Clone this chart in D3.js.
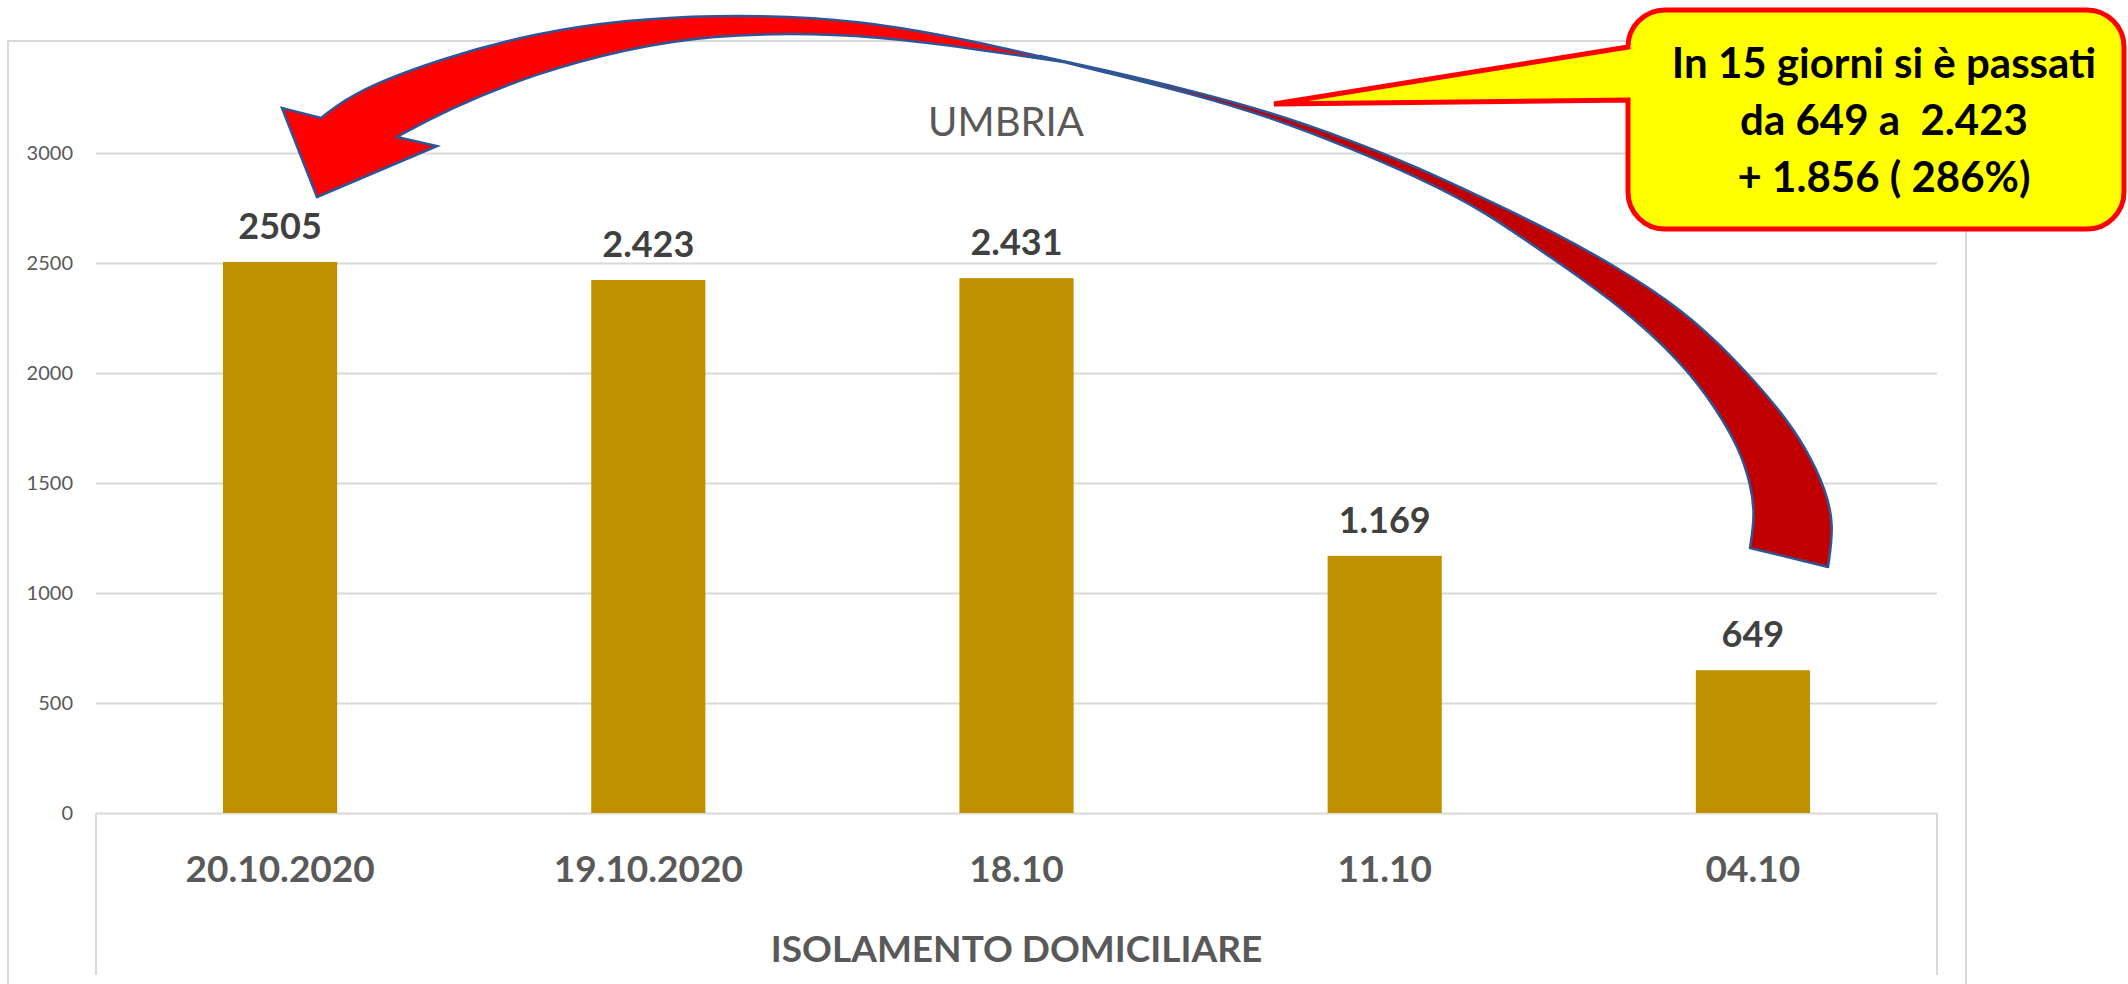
<!DOCTYPE html>
<html>
<head>
<meta charset="utf-8">
<script src="https://cdn.jsdelivr.net/npm/d3@7"></script>
<style>
  body { margin: 0; background: #ffffff; }
  svg { display: block; }
</style>
</head>
<body>
<script>
// data
const categories = ["20.10.2020", "19.10.2020", "18.10", "11.10", "04.10"];
const values = [2505, 2423, 2431, 1169, 649];
const valueLabels = ["2505", "2.423", "2.431", "1.169", "649"];
const yTicks = [0, 500, 1000, 1500, 2000, 2500, 3000];
const chartTitle = "UMBRIA";
const axisTitle = "ISOLAMENTO DOMICILIARE";
const calloutLines = ["In 15 giorni si è passati", "da 649 a  2.423", "+ 1.856 ( 286%)"];

const width = 2128, height = 984;
const font = "Lato, 'Open Sans', sans-serif";

var svg = d3.select("body").append("svg")
    .attr("width", width)
    .attr("height", height);

// outer chart border
svg.append("rect")
    .attr("x", 8).attr("y", 41)
    .attr("width", 1958).attr("height", 1000)
    .attr("fill", "none")
    .attr("stroke", "#d9d9d9")
    .attr("stroke-width", 2);

var plotLeft = 96, plotRight = 1937, plotTop = 43, plotBottom = 813;

var x = d3.scaleBand()
    .domain(categories)
    .range([plotLeft, plotRight])
    .paddingInner(0.69)
    .paddingOuter(0.345);

var y = d3.scaleLinear()
    .domain([0, 3500])
    .range([plotBottom, plotTop]);

// gridlines
var grid = svg.append("g")
    .attr("transform", "translate(" + plotLeft + ",0)")
    .call(d3.axisLeft(y).tickValues(yTicks).tickSize(-(plotRight - plotLeft)).tickFormat(""));
grid.select(".domain").remove();
grid.selectAll("line").attr("stroke", "#d9d9d9").attr("stroke-width", 2);

// y labels
var yAxis = svg.append("g")
    .attr("transform", "translate(73,0)")
    .call(d3.axisLeft(y).tickValues(yTicks).tickSize(0).tickPadding(0).tickFormat(d3.format("d")));
yAxis.select(".domain").remove();
yAxis.selectAll("text")
    .attr("fill", "#595959")
    .style("font-family", font)
    .style("font-size", "20px");

// category axis box
svg.append("path")
    .attr("d", "M" + plotLeft + "," + plotBottom + "V975M" + plotRight + "," + plotBottom + "V975")
    .attr("stroke", "#d9d9d9")
    .attr("stroke-width", 2)
    .attr("fill", "none");

// bars
svg.selectAll(".bar")
    .data(values)
    .enter().append("rect")
    .attr("class", "bar")
    .attr("x", (d, i) => x(categories[i]))
    .attr("y", d => y(d))
    .attr("width", x.bandwidth())
    .attr("height", d => y(0) - y(d))
    .attr("fill", "#bf9000");

// value labels
svg.selectAll(".vlabel")
    .data(values)
    .enter().append("text")
    .attr("class", "vlabel")
    .attr("x", (d, i) => x(categories[i]) + x.bandwidth() / 2)
    .attr("y", d => y(d) - 23)
    .attr("text-anchor", "middle")
    .attr("fill", "#404040")
    .style("font-family", font)
    .style("font-weight", "bold")
    .style("font-size", "36px")
    .text((d, i) => valueLabels[i]);

// category labels
var xAxis = svg.append("g")
    .attr("transform", "translate(0,882)")
    .call(d3.axisBottom(x).tickSize(0).tickPadding(0));
xAxis.select(".domain").remove();
xAxis.selectAll("text")
    .attr("dy", 0)
    .attr("fill", "#595959")
    .style("font-family", font)
    .style("font-weight", "bold")
    .style("font-size", "37px");

// axis title
svg.append("text")
    .attr("x", (plotLeft + plotRight) / 2)
    .attr("y", 962)
    .attr("text-anchor", "middle")
    .attr("fill", "#595959")
    .style("font-family", font)
    .style("font-weight", "bold")
    .style("font-size", "37px")
    .text(axisTitle);

// chart title
svg.append("text")
    .attr("x", 1006)
    .attr("y", 136)
    .attr("text-anchor", "middle")
    .attr("fill", "#595959")
    .style("font-family", font)
    .style("font-size", "40px")
    .text(chartTitle);

// curved arrow annotation
var edge = d3.line().curve(d3.curveBasis);

var darkOuter = [[1040, 56], [1100, 69], [1189, 90], [1270, 112], [1350, 140], [1417, 167], [1483, 198],
    [1550, 230], [1617, 267], [1683, 310], [1733, 357], [1780, 410], [1806, 448], [1826, 490],
    [1834, 525], [1828, 567]];
var darkInner = [[1750, 548], [1755, 515], [1751, 485], [1739, 448], [1717, 410], [1683, 363],
    [1617, 303], [1550, 257], [1483, 210], [1417, 177], [1350, 148], [1270, 117], [1189, 93],
    [1100, 71], [1040, 56]];

svg.append("path")
    .attr("d", edge(darkOuter) + "L" + edge(darkInner).slice(1) + "Z")
    .attr("fill", "#c00000")
    .attr("stroke", "#2f5597")
    .attr("stroke-width", 2.5)
    .attr("stroke-linejoin", "round");

var redOuter = [[321, 118], [357, 90], [446, 57], [536, 33], [625, 20], [712, 15], [816, 17],
    [900, 27], [982, 43], [1064, 62]];
var redInner = [[1064, 62], [982, 50], [900, 39], [816, 33], [712, 35], [625, 49], [536, 73],
    [446, 110], [397, 137]];

svg.append("path")
    .attr("d", edge(redOuter) + "L" + edge(redInner).slice(1) + "L437,146L317,197L282,108Z")
    .attr("fill", "#ff0000")
    .attr("stroke", "#2f5597")
    .attr("stroke-width", 2.5)
    .attr("stroke-linejoin", "miter");

// callout
var cl = 1628, cr = 2124, ct = 10, cb = 229, r = 37;
var callout = "M" + (cl + r) + "," + ct +
    "H" + (cr - r) + "A" + r + "," + r + " 0 0 1 " + cr + "," + (ct + r) +
    "V" + (cb - r) + "A" + r + "," + r + " 0 0 1 " + (cr - r) + "," + cb +
    "H" + (cl + r) + "A" + r + "," + r + " 0 0 1 " + cl + "," + (cb - r) +
    "V100L1274,104L" + cl + ",47" +
    "V" + (ct + r) + "A" + r + "," + r + " 0 0 1 " + (cl + r) + "," + ct + "Z";

svg.append("path")
    .attr("d", callout)
    .attr("fill", "#ffff00")
    .attr("stroke", "#ff0000")
    .attr("stroke-width", 5)
    .attr("stroke-linejoin", "miter");

svg.selectAll(".cline")
    .data(calloutLines)
    .enter().append("text")
    .attr("class", "cline")
    .attr("x", 1884)
    .attr("y", (d, i) => 78 + i * 57)
    .attr("text-anchor", "middle")
    .attr("fill", "#000000")
    .style("font-family", font)
    .style("font-weight", "bold")
    .style("font-size", "42px")
    .style("white-space", "pre")
    .text(d => d);
</script>
</body>
</html>
